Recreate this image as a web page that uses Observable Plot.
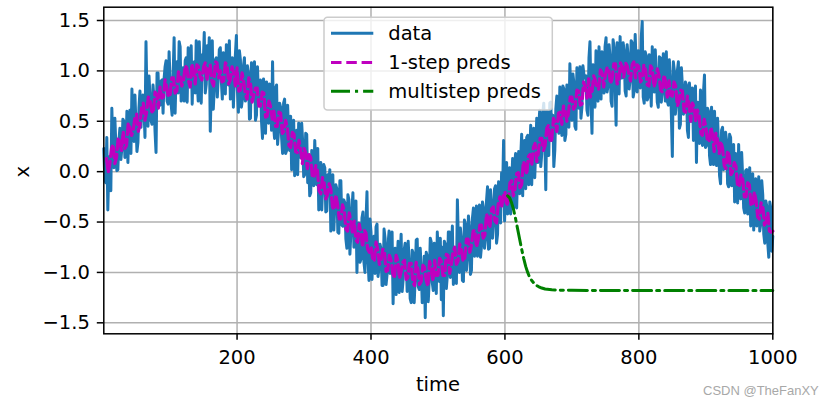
<!DOCTYPE html>
<html>
<head>
<meta charset="utf-8">
<script src="https://cdn.jsdelivr.net/npm/d3@7"></script>
<script src="https://cdn.jsdelivr.net/npm/@observablehq/plot@0.6"></script>
<style>
  html, body { margin: 0; padding: 0; background: #fff; }
  #chart { width: 831px; height: 404px; }
</style>
</head>
<body>
<div id="chart"></div>
<script>
// ---- data ----
// observed series at t = 1, 4, 7, ... 1000
const dataValues = [
  0.23, -0.11, -0.38, 0.15, 0.63, 0.04, 0.27, 0.02, 0.43, 0.23,
  0.50, 0.22, 0.09, 0.61, 0.82, 0.30, 0.48, 0.29, 0.80, 0.65,
  0.62, 1.29, 0.45, 0.74, 0.47, 0.72, 0.19, 0.98, 0.66, 0.91,
  0.92, 1.10, 0.67, 0.90, 0.56, 1.33, 0.98, 0.78, 1.24, 0.91,
  0.70, 1.13, 1.23, 0.88, 0.67, 1.09, 1.30, 0.70, 1.04, 1.16,
  1.38, 0.87, 1.05, 0.40, 1.30, 0.83, 1.13, 0.95, 1.23, 0.72,
  1.05, 1.26, 0.86, 0.72, 1.13, 0.93, 1.35, 0.59, 1.11, 0.72,
  1.13, 0.77, 0.98, 0.53, 0.88, 1.09, 0.56, 0.70, 0.91, 0.33,
  0.78, 0.89, 0.48, 0.65, 1.09, 0.33, 0.86, 0.41, 0.64, 0.18,
  0.72, 0.21, 0.38, 0.55, 0.19, -0.04, 0.41, 0.48, 0.14, 0.29,
  -0.03, 0.37, 0.12, -0.21, 0.15, 0.31, -0.13, -0.38, 0.09, -0.12,
  0.04, -0.39, -0.14, -0.59, -0.03, -0.33, -0.17, -0.61, -0.09, -0.54,
  -0.31, -0.76, -0.28, -0.60, -0.21, -0.73, -1.00, -0.51, -0.87, -0.40,
  -1.00, -0.20, -1.08, -0.60, -0.75, -1.01, -0.52, -0.95, -0.77, -1.13,
  -0.66, -1.02, -0.59, -0.97, -1.31, -0.76, -0.89, -1.20, -0.62, -1.07,
  -0.71, -1.19, -0.89, -1.30, -0.81, -1.06, -0.67, -1.17, -0.96, -1.26,
  -1.45, -0.84, -1.07, -0.70, -1.18, -0.92, -0.60, -1.09, -1.27, -1.43,
  -0.72, -1.03, -0.60, -0.84, -1.12, -0.76, -0.28, -1.00, -0.67, -1.09,
  -0.52, -0.84, -0.55, -0.98, -0.36, -0.65, -0.84, -0.33, -0.74, -0.36,
  -0.67, -0.15, -0.76, -0.32, -0.50, -0.14, -0.62, -0.27, -0.01, 0.31,
  -0.15, -0.42, 0.04, -0.12, -0.36, 0.18, 0.00, -0.22, 0.37, 0.18,
  -0.17, 0.36, 0.19, -0.13, 0.43, 0.23, 0.09, 0.61, 0.18, 0.68,
  -0.18, 0.51, 0.68, 0.31, 0.05, 0.62, 0.57, 0.84, 0.36, 0.82,
  0.37, 0.73, 1.07, 0.51, 0.88, 0.42, 0.81, 1.04, 0.64, 0.96,
  0.95, 0.56, 1.29, 0.38, 0.97, 1.20, 0.70, 0.96, 1.19, 0.78,
  1.33, 0.85, 1.14, 0.65, 1.23, 0.46, 1.11, 1.34, 0.93, 1.20,
  0.75, 1.14, 0.92, 1.28, 0.80, 1.05, 1.20, 0.83, 1.49, 0.68,
  1.15, 0.74, 1.01, 1.24, 0.79, 0.94, 0.64, 1.13, 0.79, 0.99,
  1.19, 0.66, 0.92, 0.15, 1.00, 0.68, 1.09, 0.47, 0.85, 0.63,
  0.86, 0.34, 0.71, 0.83, 0.44, 0.09, 0.68, 0.81, 0.26, 0.96,
  0.26, 0.60, 0.07, 0.40, 0.60, 0.06, 0.28, -0.12, 0.44, 0.05,
  0.31, -0.15, 0.34, -0.03, -0.30, 0.12, 0.27, -0.27, -0.05, -0.41,
  0.02, -0.33, -0.54, -0.02, -0.25, -0.54, -0.05, -0.52, -0.23, -0.71,
  -0.34, -0.85, -0.36, -0.64
];
// observed series at t = 2.5, 5.5, ... 998.5
const dataValuesMid = [
  -0.08, 0.34, 0.04, -0.19, 0.27, 0.53, 0.01, 0.30, 0.12, 0.52,
  0.14, 0.60, 0.46, 0.18, 0.38, 0.76, 0.20, 0.63, 0.44, 0.76,
  0.34, 0.71, 0.95, 0.51, 0.86, 0.40, 0.98, 0.66, 0.90, 0.58,
  1.04, 0.70, 1.19, 0.67, 0.95, 0.58, 1.09, 1.29, 0.70, 1.03,
  1.10, 0.69, 0.91, 1.25, 1.08, 0.78, 0.89, 1.29, 0.68, 1.08,
  0.78, 1.25, 1.33, 0.85, 0.62, 1.11, 0.74, 1.21, 0.90, 1.18,
  0.77, 1.04, 1.30, 0.81, 0.64, 1.16, 0.81, 1.20, 0.64, 1.05,
  0.70, 1.05, 0.52, 1.08, 0.72, 0.51, 1.04, 0.82, 0.50, 0.92,
  0.38, 0.79, 0.87, 0.41, 0.46, 0.83, 0.27, 0.68, 0.34, 0.68,
  0.18, 0.66, 0.21, 0.02, 0.51, 0.38, -0.03, 0.25, 0.48, -0.05,
  0.38, -0.11, -0.24, 0.21, -0.14, 0.04, 0.23, 0.04, -0.38, 0.07,
  -0.40, -0.03, 0.02, -0.23, -0.58, -0.13, -0.60, -0.09, -0.53, -0.28,
  -0.67, -0.23, -0.82, -0.38, -0.75, -0.29, -0.54, -0.90, -0.46, -0.90,
  -0.49, -0.87, -0.47, -1.07, -0.64, -0.55, -1.04, -0.72, -1.13, -0.57,
  -1.12, -0.72, -1.01, -0.60, -0.79, -1.22, -0.69, -0.88, -1.19, -0.78,
  -0.84, -0.69, -1.26, -0.78, -1.30, -0.68, -1.14, -0.76, -1.30, -0.84,
  -0.80, -1.29, -0.66, -1.10, -0.71, -1.21, -0.85, -0.66, -0.75, -0.69,
  -1.16, -0.60, -1.05, -0.54, -0.76, -1.11, -0.69, -0.56, -1.08, -0.48,
  -0.98, -0.44, -1.02, -0.46, -0.84, -0.34, -0.43, -0.85, -0.30, -0.76,
  -0.29, -0.77, -0.18, -0.66, -0.17, -0.71, -0.10, -0.51, -0.22, -0.49,
  0.09, -0.13, -0.42, 0.13, 0.08, -0.36, 0.20, 0.13, -0.24, 0.31,
  0.34, -0.13, 0.46, 0.23, -0.06, 0.53, 0.46, 0.05, 0.58, 0.36,
  0.60, 0.16, 0.69, 0.56, 0.21, 0.75, 0.38, 0.74, 0.85, 0.31,
  0.86, 0.44, 0.71, 0.97, 0.45, 1.03, 0.63, 0.53, 1.05, 0.93,
  0.61, 1.13, 0.72, 1.06, 0.64, 0.79, 1.24, 0.72, 0.85, 1.24,
  0.79, 1.26, 0.70, 1.31, 0.88, 1.28, 0.77, 0.93, 1.28, 0.80,
  1.26, 0.82, 1.30, 0.74, 1.36, 0.79, 1.09, 1.32, 0.74, 1.19,
  0.71, 1.16, 0.65, 0.84, 1.21, 0.69, 1.14, 0.69, 1.17, 0.70,
  0.70, 1.11, 0.57, 1.09, 0.57, 1.00, 0.43, 1.03, 0.57, 0.89,
  0.41, 0.88, 0.50, 0.31, 0.85, 0.69, 0.28, 0.41, 0.79, 0.24,
  0.63, 0.16, 0.64, 0.07, 0.20, 0.53, -0.04, 0.41, 0.02, 0.39,
  -0.12, 0.37, -0.14, 0.27, 0.18, -0.31, -0.20, 0.19, -0.36, 0.01,
  -0.42, 0.04, -0.13, -0.58, -0.07, -0.44, -0.59, -0.09, -0.62, -0.29,
  -0.71, -0.30, -0.79
];

// 1-step predictions at t = 5, 10, ... 1000
const predValues = [
  0.13, 0.08, 0.27, 0.14, 0.29, 0.40, 0.26, 0.44, 0.41, 0.57,
  0.46, 0.68, 0.59, 0.71, 0.58, 0.77, 0.84, 0.74, 0.84, 0.76,
  0.93, 0.80, 0.95, 0.90, 1.03, 0.84, 1.00, 1.06, 0.94, 1.04,
  0.90, 1.06, 0.85, 1.08, 1.00, 0.90, 1.06, 0.91, 0.98, 1.03,
  0.81, 0.89, 0.72, 0.88, 0.76, 0.83, 0.65, 0.78, 0.55, 0.65,
  0.60, 0.45, 0.58, 0.40, 0.44, 0.24, 0.37, 0.19, 0.21, 0.23,
  0.03, 0.14, -0.05, 0.01, -0.22, -0.11, -0.23, -0.17, -0.38, -0.32,
  -0.47, -0.38, -0.59, -0.49, -0.49, -0.70, -0.62, -0.58, -0.77, -0.74,
  -0.89, -0.77, -0.88, -0.78, -0.98, -0.88, -1.06, -0.88, -0.99, -0.88,
  -1.05, -0.91, -1.13, -0.97, -1.09, -0.95, -1.14, -0.96, -0.88, -1.03,
  -0.89, -1.03, -0.83, -0.92, -0.75, -0.89, -0.77, -0.86, -0.67, -0.73,
  -0.58, -0.68, -0.53, -0.63, -0.47, -0.37, -0.49, -0.32, -0.36, -0.20,
  -0.29, -0.09, -0.17, -0.01, -0.13, 0.07, 0.15, 0.06, 0.28, 0.19,
  0.33, 0.26, 0.46, 0.32, 0.49, 0.58, 0.47, 0.60, 0.59, 0.74,
  0.65, 0.80, 0.67, 0.84, 0.92, 0.79, 0.91, 0.82, 0.98, 0.96,
  1.03, 0.92, 1.07, 0.89, 1.04, 1.08, 0.97, 1.06, 0.93, 1.04,
  0.92, 1.01, 0.85, 1.02, 0.90, 0.96, 0.79, 0.89, 0.90, 0.75,
  0.85, 0.70, 0.80, 0.59, 0.66, 0.68, 0.49, 0.56, 0.36, 0.45,
  0.30, 0.37, 0.38, 0.18, 0.23, 0.03, 0.15, 0.00, 0.05, -0.14,
  -0.07, -0.25, -0.13, -0.33, -0.29, -0.47, -0.34, -0.50, -0.59, -0.59
];
// 1-step predictions at t = 7.5, 12.5, ... 997.5
const predValuesMid = [
  -0.01, 0.23, 0.08, 0.34, 0.21, 0.23, 0.48, 0.36, 0.54, 0.40,
  0.64, 0.51, 0.74, 0.60, 0.79, 0.63, 0.73, 0.91, 0.74, 0.93,
  0.78, 0.99, 0.85, 1.05, 0.90, 1.07, 0.87, 1.04, 0.91, 1.08,
  1.04, 0.89, 1.09, 0.93, 0.89, 1.08, 0.87, 1.04, 0.85, 0.80,
  0.98, 0.76, 0.93, 0.69, 0.83, 0.65, 0.79, 0.54, 0.70, 0.52,
  0.45, 0.59, 0.38, 0.51, 0.26, 0.39, 0.20, 0.31, 0.08, 0.19,
  0.17, -0.06, 0.06, -0.19, -0.06, -0.27, -0.12, -0.35, -0.23, -0.47,
  -0.33, -0.57, -0.41, -0.62, -0.68, -0.52, -0.75, -0.61, -0.80, -0.87,
  -0.70, -0.92, -0.77, -0.99, -0.83, -1.01, -0.83, -1.06, -0.90, -1.07,
  -0.91, -1.10, -0.90, -1.12, -0.93, -1.08, -0.89, -1.09, -1.03, -0.86,
  -1.03, -0.82, -1.01, -0.79, -0.92, -0.72, -0.89, -0.67, -0.80, -0.59,
  -0.75, -0.53, -0.66, -0.42, -0.56, -0.35, -0.51, -0.25, -0.24, -0.34,
  -0.11, -0.24, -0.02, -0.16, 0.10, -0.03, 0.17, 0.24, 0.10, 0.33,
  0.21, 0.43, 0.29, 0.53, 0.40, 0.59, 0.65, 0.50, 0.74, 0.62,
  0.81, 0.66, 0.89, 0.73, 0.74, 0.95, 0.82, 1.01, 0.84, 1.03,
  0.87, 1.07, 0.87, 1.08, 0.94, 1.05, 0.90, 1.09, 1.06, 0.89,
  1.06, 0.86, 1.05, 0.84, 1.02, 0.81, 0.96, 0.74, 0.76, 0.89,
  0.65, 0.81, 0.60, 0.75, 0.50, 0.64, 0.61, 0.38, 0.52, 0.30,
  0.44, 0.20, 0.31, 0.30, 0.06, 0.21, -0.03, 0.09, -0.15, -0.03,
  -0.25, -0.11, -0.34, -0.20, -0.45, -0.31, -0.53, -0.41, -0.60
];

// multistep predictions
const multiTime = [604, 607, 610, 613, 616, 619, 622, 625, 628, 631, 634, 637, 640, 645, 650, 655, 660, 670, 680, 700, 800, 900, 1000];
const multiValues = [-0.24, -0.26, -0.31, -0.38, -0.47, -0.57, -0.67, -0.77, -0.86, -0.94, -1.00, -1.05, -1.08, -1.12, -1.14, -1.155, -1.165, -1.172, -1.176, -1.178, -1.18, -1.18, -1.18];

const xTicks = [200, 400, 600, 800, 1000];
const yTicks = [-1.5, -1.0, -0.5, 0.0, 0.5, 1.0, 1.5];
const legendLabels = ["data", "1-step preds", "multistep preds"];
const seriesColors = ["#1f77b4", "#bf00bf", "#008000"];
const seriesDashes = ["none", "10.5,4.8", "19,5,3.1,5"];

// ---- tables built from the arrays ----
function interleave(a, b) {
  const out = [];
  a.forEach((v, i) => { out.push(v); if (i < b.length) out.push(b[i]); });
  return out;
}
const dataSeries = interleave(dataValues, dataValuesMid);
const dataTime = d3.range(dataSeries.length).map(i => 1 + 1.5 * i);
const predSeries = interleave(predValues, predValuesMid);
const predTime = d3.range(predSeries.length).map(i => 5 + 2.5 * i);

const dataRows = dataTime.map((t, i) => ({t, v: dataSeries[i]}));
const predRows = predTime.map((t, i) => ({t, v: predSeries[i]}));
const multiRows = multiTime.map((t, i) => ({t, v: multiValues[i]}));

const FONT = "DejaVu Sans";
const FS = 19.5;
const LW = 3.0;

const chart = Plot.plot({
  width: 831,
  height: 404,
  marginLeft: 103.3,
  marginRight: 58.7,
  marginTop: 6.7,
  marginBottom: 70.7,
  style: {fontFamily: FONT, fontSize: FS + "px", color: "#000", background: "#fff", overflow: "visible"},
  x: {domain: [1, 1000]},
  y: {domain: [-1.609, 1.632]},
  marks: [
    Plot.gridX({ticks: xTicks, stroke: "#b0b0b0", strokeOpacity: 1, strokeWidth: 1.5}),
    Plot.gridY({ticks: yTicks, stroke: "#b0b0b0", strokeOpacity: 1, strokeWidth: 1.5}),
    Plot.line(dataRows, {x: "t", y: "v", stroke: seriesColors[0], strokeWidth: LW, strokeLinejoin: "round"}),
    Plot.line(predRows, {x: "t", y: "v", stroke: seriesColors[1], strokeWidth: 3.2, strokeDasharray: seriesDashes[1], strokeLinejoin: "round"}),
    Plot.line(multiRows, {x: "t", y: "v", stroke: seriesColors[2], strokeWidth: LW, strokeDasharray: seriesDashes[2], strokeLinejoin: "round"}),
    Plot.frame({stroke: "#000", strokeWidth: 1.5}),
    Plot.axisX({ticks: xTicks, tickSize: 6.5, tickPadding: 10, strokeWidth: 1.5, label: null, fontSize: FS, tickFormat: d => String(d)}),
    Plot.axisY({ticks: yTicks, tickSize: 6.5, tickPadding: 7.5, strokeWidth: 1.5, label: null, fontSize: FS, tickFormat: d3.format(".1f")})
  ]
});

document.getElementById("chart").appendChild(chart);

// ---- axis labels, legend, watermark ----
const svg = d3.select(chart);

svg.append("text")
  .attr("x", 438).attr("y", 390.7)
  .attr("text-anchor", "middle")
  .attr("font-family", FONT).attr("font-size", FS)
  .attr("fill", "#000")
  .text("time");

svg.append("text")
  .attr("transform", "translate(28.5,171.7) rotate(-90)")
  .attr("text-anchor", "middle")
  .attr("font-family", FONT).attr("font-size", FS)
  .attr("fill", "#000")
  .text("x");

const lg = svg.append("g");
lg.append("rect")
  .attr("x", 324).attr("y", 17.3)
  .attr("width", 228.3).attr("height", 92.7)
  .attr("rx", 3.5).attr("ry", 3.5)
  .attr("fill", "#fff").attr("fill-opacity", 0.8)
  .attr("stroke", "#cccccc").attr("stroke-width", 1.5);

const rowY = [33.3, 62.5, 91.2];
legendLabels.forEach((lab, i) => {
  lg.append("line")
    .attr("x1", 331).attr("x2", 373.3)
    .attr("y1", rowY[i]).attr("y2", rowY[i])
    .attr("stroke", seriesColors[i]).attr("stroke-width", LW)
    .attr("stroke-dasharray", seriesDashes[i]);
  lg.append("text")
    .attr("x", 388.3).attr("y", rowY[i] + 6.7)
    .attr("text-anchor", "start")
    .attr("font-family", FONT).attr("font-size", FS)
    .attr("fill", "#000")
    .text(lab);
});

svg.append("text")
  .attr("x", 703).attr("y", 395)
  .attr("text-anchor", "start")
  .attr("font-family", "Liberation Sans").attr("font-size", 13)
  .attr("fill", "#a8a8a8")
  .text("CSDN @TheFanXY");
</script>
</body>
</html>
